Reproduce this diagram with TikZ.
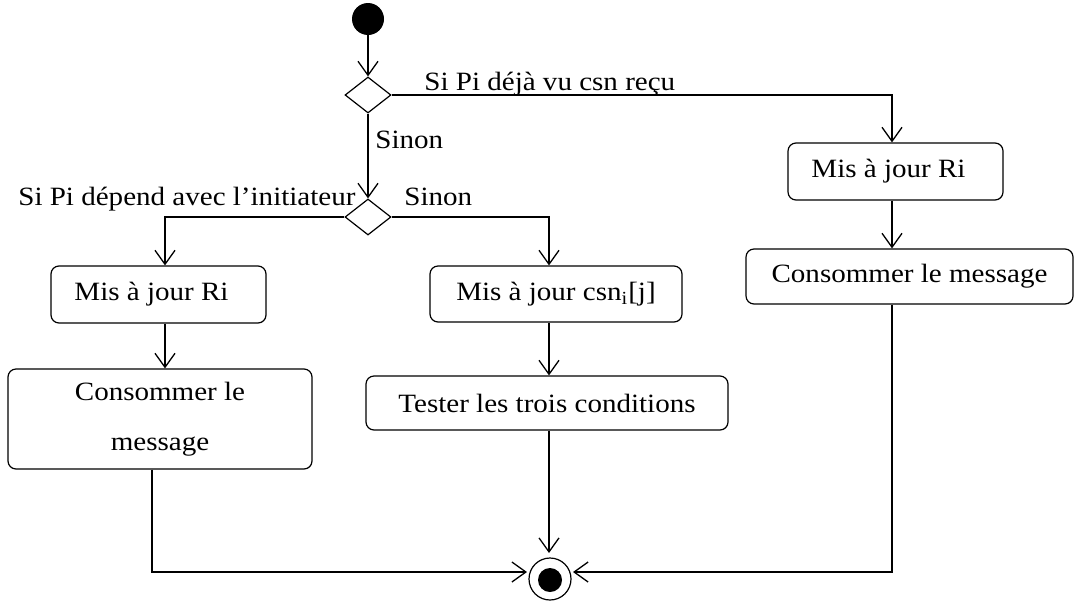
\documentclass[tikz,border=0pt]{standalone}
\usepackage{fontspec}
\setmainfont[FakeStretch=1.1]{Liberation Serif}
\usetikzlibrary{arrows.meta,shapes.geometric}
\begin{document}
\begin{tikzpicture}[x=0.5pt,y=-0.5pt,
  every node/.style={font=\fontsize{13.2}{15}\selectfont},
  act/.style={draw, rounded corners=4pt, line width=0.6pt, inner sep=0pt, align=center},
  dec/.style={draw, diamond, line width=0.6pt, minimum width=23pt, minimum height=18pt, inner sep=0pt},
  flow/.style={line width=0.65pt, -{Straight Barb[length=7pt,width=10pt]}},
  lbl/.style={inner sep=0pt, anchor=base west}]
\useasboundingbox (0,0) rectangle (1074,600);

% initial and final states
\node[circle, fill, minimum size=16pt, inner sep=0pt] (start) at (368,19) {};
\node[circle, draw, line width=0.6pt, minimum size=21pt, inner sep=0pt] (end) at (550,579) {};
\node[circle, fill, minimum size=12pt, inner sep=0pt] (endDot) at (550,580) {};

% decisions
\node[dec] (d1) at (368,95) {};
\node[dec] (d2) at (368,217) {};

% activities
\node[act, minimum width=107.5pt, minimum height=28.5pt] (ma) at (158.5,294.5) {\hspace*{-7pt}Mis à jour Ri};
\node[act, minimum width=152pt, minimum height=50pt, font=\fontsize{13.2}{25}\selectfont] (ca) at (160,419) {Consommer le\\message};
\node[act, minimum width=126pt, minimum height=28pt] (mc) at (556,294) {Mis à jour csn\textsubscript{i}[j]};
\node[act, minimum width=181pt, minimum height=27pt] (tt) at (547,403) {Tester les trois conditions};
\node[act, minimum width=107.5pt, minimum height=28.5pt] (mr) at (895.5,171.5) {\hspace*{-7pt}Mis à jour Ri};
\node[act, minimum width=163.5pt, minimum height=27.5pt] (cr) at (909.5,276.5) {Consommer le message};

% column positions of the vertical flows
\coordinate (lx) at (165,0);
\coordinate (llx) at (152,0);
\coordinate (mx) at (549,0);
\coordinate (rx) at (892,0);
\coordinate (eL) at (527,572);
\coordinate (eR) at (573,572);
\coordinate (eT) at (549,553);

% flows
\draw[flow] (start) -- (d1);
\draw[flow] (d1) -- (d2);
\draw[flow] (d1.east) -| (rx |- mr.north);
\draw[flow] (mr.south -| rx) -- (cr.north -| rx);
\draw[flow] (cr.south -| rx) |- (eR);
\draw[flow] (d2.west) -| (lx |- ma.north);
\draw[flow] (ma.south -| lx) -- (ca.north -| lx);
\draw[flow] (ca.south -| llx) |- (eL);
\draw[flow] (d2.east) -| (mx |- mc.north);
\draw[flow] (mc.south -| mx) -- (tt.north -| mx);
\draw[flow] (tt.south -| mx) -- (eT);

% guards
\node[lbl] (g1) at (424,90) {Si Pi déjà vu csn reçu};
\node[lbl] (g2) at (375,148) {Sinon};
\node[lbl] (g3) at (18,205) {Si Pi dépend avec l’initiateur};
\node[lbl] (g4) at (404,205) {Sinon};
\end{tikzpicture}
\end{document}
